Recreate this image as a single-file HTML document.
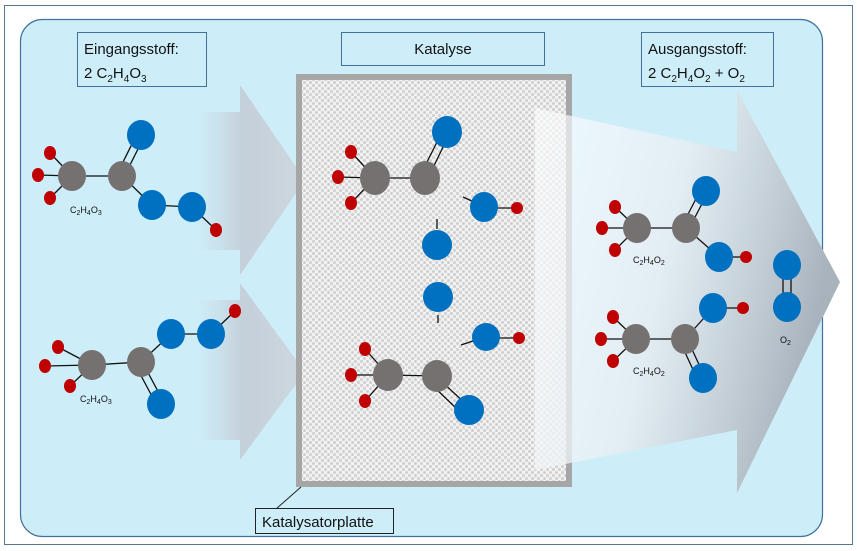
<!DOCTYPE html>
<html><head><meta charset="utf-8"><style>
html,body{margin:0;padding:0;background:#fff}
svg{display:block;font-family:"Liberation Sans",Calibri,sans-serif}
</style></head><body>
<svg width="857" height="551" viewBox="0 0 857 551" xmlns="http://www.w3.org/2000/svg">
<defs>
<pattern id="chk" width="6" height="6" patternUnits="userSpaceOnUse">
<rect width="6" height="6" fill="#f2f2f2"/>
<circle cx="1.5" cy="1.5" r="1.5" fill="#cfcfcf"/>
<circle cx="4.5" cy="4.5" r="1.5" fill="#cfcfcf"/>
</pattern>
<linearGradient id="ga" x1="0" y1="0" x2="1" y2="0">
<stop offset="0" stop-color="#c9d3dc" stop-opacity="0"/>
<stop offset="0.45" stop-color="#c3ccd6" stop-opacity="0.9"/>
<stop offset="1" stop-color="#cfd8e0" stop-opacity="1"/>
</linearGradient>
<linearGradient id="gb" x1="0" y1="0" x2="1" y2="0.3">
<stop offset="0" stop-color="#ffffff" stop-opacity="0.6"/>
<stop offset="0.5" stop-color="#e6eef3" stop-opacity="0.85"/>
<stop offset="1" stop-color="#a9b3bd" stop-opacity="1"/>
</linearGradient>
</defs>
<rect x="4.5" y="5.5" width="848" height="539" fill="#fff" stroke="#5a7590" stroke-width="1"/>
<rect x="20.5" y="19.5" width="802" height="517" rx="22" fill="#cdeef9" stroke="#41719c" stroke-width="1.2"/>

<polygon points="195,112 240,112 240,85 305,180 240,275 240,250 195,250" fill="url(#ga)"/>
<polygon points="195,300 240,300 240,283 305,372 240,460 240,440 195,440" fill="url(#ga)"/>

<rect x="299" y="77" width="270" height="407" fill="url(#chk)" stroke="#a6a6a6" stroke-width="6"/>

<polygon points="535,108 737,152 737,90 840,282 737,493 737,430 535,470" fill="url(#gb)"/>

<rect x="77.5" y="32.5" width="129" height="54" fill="#cdeef9" stroke="#41719c"/>
<text x="84" y="54" font-size="15" fill="#111">Eingangsstoff:</text>
<text x="84" y="78" font-size="15" fill="#111">2 C<tspan font-size="10" dy="4">2</tspan><tspan dy="-4">H</tspan><tspan font-size="10" dy="4">4</tspan><tspan dy="-4">O</tspan><tspan font-size="10" dy="4">3</tspan></text>
<rect x="341.5" y="32.5" width="203" height="33" fill="#cdeef9" stroke="#41719c"/>
<text x="443" y="54" font-size="15" fill="#111" text-anchor="middle">Katalyse</text>
<rect x="641.5" y="32.5" width="132" height="54" fill="#cdeef9" stroke="#41719c"/>
<text x="648" y="54" font-size="15" fill="#111">Ausgangsstoff:</text>
<text x="648" y="78" font-size="15" fill="#111">2 C<tspan font-size="10" dy="4">2</tspan><tspan dy="-4">H</tspan><tspan font-size="10" dy="4">4</tspan><tspan dy="-4">O</tspan><tspan font-size="10" dy="4">2</tspan><tspan dy="-4"> + O</tspan><tspan font-size="10" dy="4">2</tspan></text>
<polyline points="301,487 276,509" fill="none" stroke="#222"/>
<rect x="255.5" y="508.5" width="138" height="25" fill="#cdeef9" stroke="#222"/>
<text x="262" y="527" font-size="15" fill="#111">Katalysatorplatte</text>

<g stroke="#111" stroke-width="1.3">
<line x1="50" y1="153" x2="72" y2="176"/><line x1="38" y1="175" x2="72" y2="176"/><line x1="50" y1="198" x2="72" y2="176"/>
<line x1="72" y1="176" x2="122" y2="176"/><line x1="122" y1="176" x2="152" y2="205"/><line x1="152" y1="205" x2="192" y2="207"/><line x1="192" y1="207" x2="216" y2="230"/>
<line x1="120" y1="168" x2="135" y2="138"/><line x1="127" y1="171" x2="142" y2="141"/>
<line x1="58" y1="347" x2="92" y2="365"/><line x1="45" y1="366" x2="92" y2="365"/><line x1="70" y1="386" x2="92" y2="365"/>
<line x1="92" y1="365" x2="141" y2="362"/><line x1="141" y1="362" x2="171" y2="334"/><line x1="171" y1="334" x2="211" y2="334"/><line x1="211" y1="334" x2="235" y2="311"/>
<line x1="138" y1="370" x2="154" y2="400"/><line x1="145" y1="367" x2="161" y2="397"/>
<line x1="351" y1="152" x2="375" y2="178"/><line x1="338" y1="177" x2="375" y2="178"/><line x1="351" y1="203" x2="375" y2="178"/>
<line x1="375" y1="178" x2="425" y2="178"/>
<line x1="424" y1="168" x2="437" y2="142"/><line x1="431" y1="172" x2="444" y2="145"/>
<line x1="463" y1="197" x2="474" y2="202"/><line x1="484" y1="208" x2="517" y2="208"/>
<line x1="437" y1="219" x2="437" y2="229"/><line x1="438" y1="315" x2="438" y2="323"/>
<line x1="461" y1="345" x2="476" y2="340"/><line x1="486" y1="338" x2="519" y2="338"/>
<line x1="365" y1="349" x2="388" y2="375"/><line x1="351" y1="375" x2="388" y2="375"/><line x1="365" y1="401" x2="388" y2="375"/>
<line x1="388" y1="375" x2="437" y2="376"/>
<line x1="433" y1="386" x2="458" y2="410"/><line x1="441" y1="381" x2="466" y2="404"/>
<line x1="615" y1="207" x2="637" y2="228"/><line x1="602" y1="228" x2="637" y2="228"/><line x1="615" y1="250" x2="637" y2="228"/>
<line x1="637" y1="228" x2="686" y2="228"/><line x1="686" y1="228" x2="719" y2="257"/><line x1="719" y1="257" x2="746" y2="257"/>
<line x1="685" y1="220" x2="699" y2="193"/><line x1="692" y1="223" x2="706" y2="196"/>
<line x1="613" y1="317" x2="636" y2="339"/><line x1="601" y1="339" x2="636" y2="339"/><line x1="613" y1="361" x2="636" y2="339"/>
<line x1="636" y1="339" x2="685" y2="339"/><line x1="685" y1="339" x2="713" y2="308"/><line x1="713" y1="308" x2="743" y2="308"/>
<line x1="683" y1="348" x2="695" y2="374"/><line x1="690" y1="345" x2="702" y2="371"/>
<line x1="783" y1="270" x2="783" y2="302"/><line x1="791" y1="270" x2="791" y2="302"/>
</g>

<g fill="#c00000">
<ellipse cx="50" cy="153" rx="6" ry="7"/><ellipse cx="38" cy="175" rx="6" ry="7"/><ellipse cx="50" cy="198" rx="6" ry="7"/><ellipse cx="216" cy="230" rx="6" ry="7"/>
<ellipse cx="58" cy="347" rx="6" ry="7"/><ellipse cx="45" cy="366" rx="6" ry="7"/><ellipse cx="70" cy="386" rx="6" ry="7"/><ellipse cx="235" cy="311" rx="6" ry="7"/>
<ellipse cx="351" cy="152" rx="6" ry="7"/><ellipse cx="338" cy="177" rx="6" ry="7"/><ellipse cx="351" cy="203" rx="6" ry="7"/><ellipse cx="517" cy="208" rx="6" ry="6"/>
<ellipse cx="519" cy="338" rx="6" ry="6"/>
<ellipse cx="365" cy="349" rx="6" ry="7"/><ellipse cx="351" cy="375" rx="6" ry="7"/><ellipse cx="365" cy="401" rx="6" ry="7"/>
<ellipse cx="615" cy="207" rx="6" ry="7"/><ellipse cx="602" cy="228" rx="6" ry="7"/><ellipse cx="615" cy="250" rx="6" ry="7"/><ellipse cx="746" cy="257" rx="6" ry="6"/>
<ellipse cx="613" cy="317" rx="6" ry="7"/><ellipse cx="601" cy="339" rx="6" ry="7"/><ellipse cx="613" cy="361" rx="6" ry="7"/><ellipse cx="743" cy="308" rx="6" ry="6"/>
</g>
<g fill="#767171">
<ellipse cx="72" cy="176" rx="14" ry="15"/><ellipse cx="122" cy="176" rx="14" ry="15"/>
<ellipse cx="92" cy="365" rx="14" ry="15"/><ellipse cx="141" cy="362" rx="14" ry="15"/>
<ellipse cx="375" cy="178" rx="15" ry="17"/><ellipse cx="425" cy="178" rx="15" ry="17"/>
<ellipse cx="388" cy="375" rx="15" ry="16"/><ellipse cx="437" cy="376" rx="15" ry="16"/>
<ellipse cx="637" cy="228" rx="14" ry="15"/><ellipse cx="686" cy="228" rx="14" ry="15"/>
<ellipse cx="636" cy="339" rx="14" ry="15"/><ellipse cx="685" cy="339" rx="14" ry="15"/>
</g>
<g fill="#0070c0">
<ellipse cx="141" cy="135" rx="14" ry="15"/><ellipse cx="152" cy="205" rx="14" ry="15"/><ellipse cx="192" cy="207" rx="14" ry="15"/>
<ellipse cx="171" cy="334" rx="14" ry="15"/><ellipse cx="211" cy="334" rx="14" ry="15"/><ellipse cx="161" cy="404" rx="14" ry="15"/>
<ellipse cx="447" cy="132" rx="15" ry="16"/><ellipse cx="484" cy="207" rx="14" ry="15"/>
<ellipse cx="437" cy="245" rx="15" ry="15"/><ellipse cx="438" cy="297" rx="15" ry="15"/>
<ellipse cx="486" cy="337" rx="14" ry="14"/><ellipse cx="469" cy="410" rx="15" ry="15"/>
<ellipse cx="706" cy="191" rx="14" ry="15"/><ellipse cx="719" cy="257" rx="14" ry="15"/>
<ellipse cx="713" cy="308" rx="14" ry="15"/><ellipse cx="703" cy="378" rx="14" ry="15"/>
<ellipse cx="787" cy="265" rx="14" ry="15"/><ellipse cx="787" cy="307" rx="14" ry="15"/>
</g>
<g font-size="9" fill="#111">
<text x="70" y="213">C<tspan font-size="7" dy="2">2</tspan><tspan dy="-2">H</tspan><tspan font-size="7" dy="2">4</tspan><tspan dy="-2">O</tspan><tspan font-size="7" dy="2">3</tspan></text>
<text x="80" y="402">C<tspan font-size="7" dy="2">2</tspan><tspan dy="-2">H</tspan><tspan font-size="7" dy="2">4</tspan><tspan dy="-2">O</tspan><tspan font-size="7" dy="2">3</tspan></text>
<text x="633" y="263">C<tspan font-size="7" dy="2">2</tspan><tspan dy="-2">H</tspan><tspan font-size="7" dy="2">4</tspan><tspan dy="-2">O</tspan><tspan font-size="7" dy="2">2</tspan></text>
<text x="633" y="374">C<tspan font-size="7" dy="2">2</tspan><tspan dy="-2">H</tspan><tspan font-size="7" dy="2">4</tspan><tspan dy="-2">O</tspan><tspan font-size="7" dy="2">2</tspan></text>
<text x="780" y="343">O<tspan font-size="7" dy="2">2</tspan></text>
</g>
</svg>
</body></html>
